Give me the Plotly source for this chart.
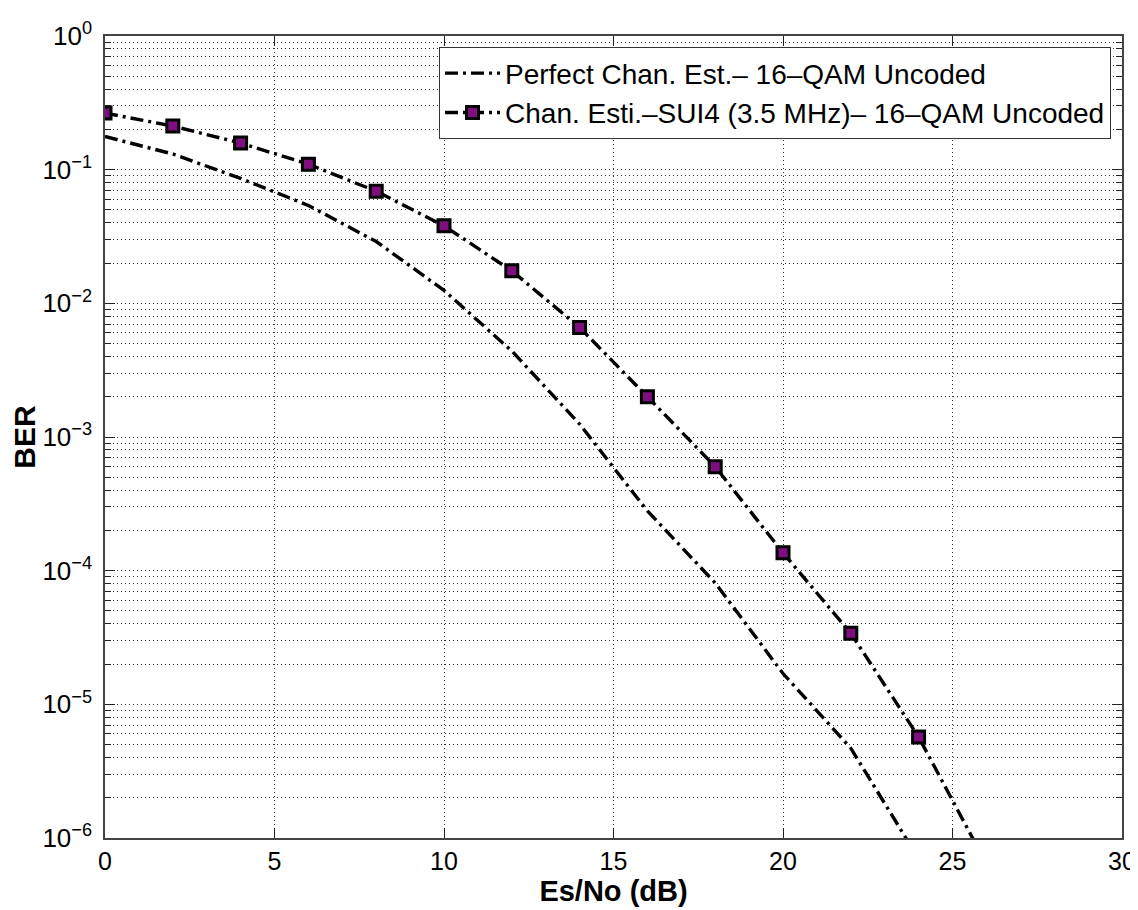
import plotly.graph_objects as go

snr_db = [0, 2, 4, 6, 8, 10, 12, 14, 16, 18, 20, 22, 24, 26]
ber_perfect = [0.177, 0.131, 0.086, 0.054, 0.029, 0.0125, 0.0044, 0.00125,
               0.00028, 0.000081, 0.000017, 0.0000047, 0.0000007, 0.00000009]
ber_sui4 = [0.265, 0.212, 0.158, 0.110, 0.069, 0.038, 0.0175, 0.0066,
            0.0020, 0.00060, 0.000136, 0.000034, 0.0000057, 0.00000064]

name_perfect = "Perfect Chan. Est.\u2013 16\u2013QAM Uncoded"
name_sui4 = "Chan. Esti.\u2013SUI4 (3.5 MHz)\u2013 16\u2013QAM Uncoded"

x_ticks = [0, 5, 10, 15, 20, 25, 30]
y_exps = [0, -1, -2, -3, -4, -5, -6]
y_tickvals = [10.0 ** e for e in y_exps]
y_ticktext = ["10<sup>%s</sup>" % ("\u2212%d" % -e if e < 0 else "0") for e in y_exps]
y_minor = [k * 10.0 ** e for e in range(-6, 0) for k in range(2, 10)]

FONT = "Liberation Sans, Arial, sans-serif"
DASH = "13px,5px,3px,5px"
GRID = "1px,3px"

fig = go.Figure()
fig.add_trace(go.Scatter(
    x=snr_db, y=ber_perfect, mode="lines", name=name_perfect,
    line=dict(color="black", width=3.4, dash=DASH),
))
fig.add_trace(go.Scatter(
    x=snr_db, y=ber_sui4, mode="lines+markers", name=name_sui4,
    line=dict(color="black", width=3.4, dash=DASH),
    marker=dict(symbol="square", size=12, color="#7f0f7f",
                line=dict(color="black", width=3)),
))

# page body has an 8px margin, so the figure is drawn 8px smaller
fig.update_layout(
    width=1130, height=902,
    margin=dict(l=97, r=16, t=28, b=72, autoexpand=False),
    paper_bgcolor="white", plot_bgcolor="white",
    font=dict(family=FONT, color="black", size=25),
    showlegend=True,
    legend=dict(
        x=0.989, y=0.986, xanchor="right", yanchor="top",
        bgcolor="white", bordercolor="#333333", borderwidth=1.2,
        font=dict(family=FONT, size=28, color="black"),
        itemwidth=55, tracegroupgap=0,
    ),
    xaxis=dict(
        range=[0, 30], tickvals=x_ticks, ticktext=[str(v) for v in x_ticks],
        showgrid=True, gridcolor="#333333", griddash=GRID, gridwidth=1,
        showline=True, linecolor="#444444", linewidth=1.5, mirror="allticks",
        ticks="inside", ticklen=10, tickcolor="#222222",
        zeroline=False, automargin=False,
        tickfont=dict(size=25, family=FONT),
        title=dict(text="<b>Es/No (dB)</b>", font=dict(size=29, family=FONT), standoff=2),
    ),
    yaxis=dict(
        type="log", range=[-6, 0],
        tickvals=y_tickvals, ticktext=y_ticktext,
        showgrid=True, gridcolor="#333333", griddash=GRID, gridwidth=1,
        showline=True, linecolor="#444444", linewidth=1.5, mirror="allticks",
        ticks="inside", ticklen=10, tickcolor="#222222",
        automargin=False, ticklabelstandoff=6,
        tickfont=dict(size=26, family=FONT),
        minor=dict(tickvals=y_minor, showgrid=True, gridcolor="#333333",
                   griddash=GRID, gridwidth=1, ticks="inside", ticklen=6,
                   tickcolor="#222222"),
        title=dict(text="<b>BER</b>", font=dict(size=30, family=FONT), standoff=2),
    ),
)

fig.write_html("out.html")
